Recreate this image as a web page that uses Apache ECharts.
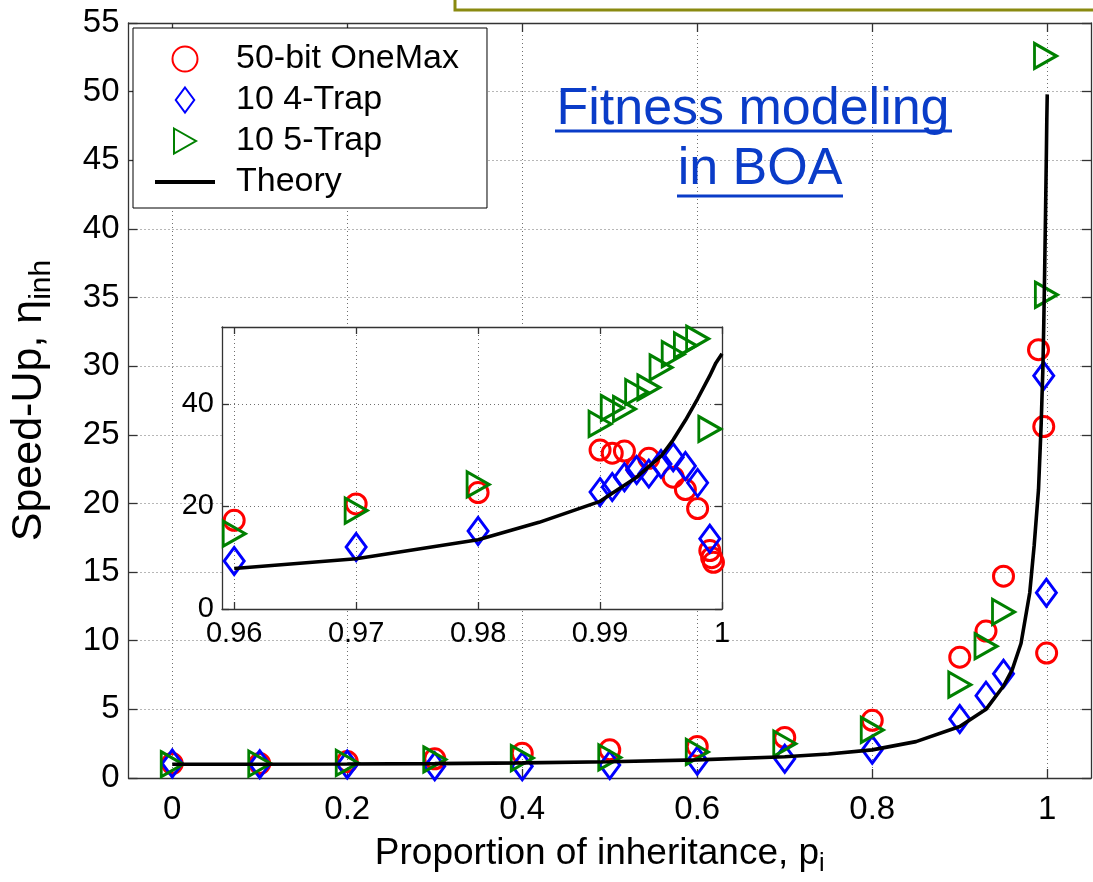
<!DOCTYPE html>
<html><head><meta charset="utf-8">
<script src="https://cdn.jsdelivr.net/npm/echarts@6/dist/echarts.min.js"></script>
<style>html,body{margin:0;padding:0;background:#fff}#c{width:1093px;height:882px}</style>
</head><body><div id="c"></div>
<script>
// ---------- tick labels ----------
const mainXTicks = [0, 0.2, 0.4, 0.6, 0.8, 1];
const insetXTicks = [0.96, 0.97, 0.98, 0.99, 1];
const insetYTicks = [0, 20, 40];

// ---------- main panel data ----------
const pOneMaxMain = [0, 0.1, 0.2, 0.3, 0.4, 0.5, 0.6, 0.7, 0.8, 0.9, 0.93, 0.95, 0.99, 0.996, 0.9993];
const oneMaxMain  = [1.05, 1.05, 1.2, 1.4, 1.8, 2.05, 2.3, 2.95, 4.2, 8.8, 10.7, 14.7, 31.2, 25.6, 9.1];
const pTrap4Main  = [0, 0.1, 0.2, 0.3, 0.4, 0.5, 0.6, 0.7, 0.8, 0.9, 0.93, 0.95, 0.996, 0.999];
const trap4Main   = [1.05, 1.0, 0.98, 0.85, 0.85, 0.95, 1.25, 1.4, 2.06, 4.3, 6.0, 7.6, 29.3, 13.5];
const pTrap5Main  = [0, 0.1, 0.2, 0.3, 0.4, 0.5, 0.6, 0.7, 0.8, 0.9, 0.93, 0.95, 0.998, 0.999];
const trap5Main   = [1.0, 1.05, 1.1, 1.35, 1.45, 1.5, 1.9, 2.5, 3.5, 6.8, 9.6, 12.1, 52.6, 35.2];

// ---------- inset data ----------
const pOneMaxInset = [0.96, 0.97, 0.98, 0.99, 0.991, 0.992, 0.993, 0.994, 0.996, 0.997, 0.998, 0.999, 0.99915, 0.9993];
const oneMaxInset  = [17.3, 20.5, 22.7, 31.0, 30.4, 30.8, 27.7, 29.4, 25.7, 23.3, 19.6, 11.4, 10.0, 9.1];
const pTrap4Inset  = [0.96, 0.97, 0.98, 0.99, 0.991, 0.992, 0.993, 0.994, 0.995, 0.996, 0.997, 0.998, 0.999];
const trap4Inset   = [9.35, 12.1, 15.2, 22.8, 23.8, 25.7, 27.1, 26.4, 28.3, 29.6, 27.9, 24.6, 13.7];
const pTrap5Inset  = [0.96, 0.97, 0.98, 0.99, 0.991, 0.992, 0.993, 0.994, 0.995, 0.996, 0.997, 0.998, 0.999];
const trap5Inset   = [14.7, 19.2, 24.3, 36.1, 39.2, 39.0, 42.3, 43.2, 47.1, 49.7, 51.4, 52.7, 35.1];

// ---------- theory curve ----------
const pTheory = [0, 0.1, 0.2, 0.3, 0.4, 0.5, 0.6, 0.7, 0.75, 0.8, 0.85, 0.9, 0.93, 0.95, 0.96, 0.97, 0.98, 0.985, 0.99, 0.993, 0.995, 0.996, 0.997, 0.998, 0.999, 0.9995, 1.0];
const theory  = [1.0, 1.0, 1.02, 1.05, 1.1, 1.18, 1.32, 1.55, 1.75, 2.05, 2.65, 3.75, 5.0, 6.7, 7.9, 9.8, 13.5, 16.9, 21.0, 25.7, 29.8, 33.0, 36.8, 41.0, 45.5, 48.0, 49.8];
const insetStart = 0.96;

const zip = (xs, ys) => xs.map((x, i) => [x, ys[i]]);
const F = "'Liberation Sans', Arial, sans-serif";
const RED = '#ff0000', BLUE = '#0000ff', GREEN = '#008000', TBLUE = '#0a3cc8';
const GRIDC = '#6f6f6f';
const AXC = '#333';
const DIAMOND = 'path://M10,0 L20,13.5 L10,27 L0,13.5 Z';
const TRIRIGHT = 'path://M0,0 L22,12.5 L0,25 Z';
const LINEICON = 'path://M0,0 L60,0 L60,4 L0,4 Z';

function mk(name, data, xi, yi, color, kind, z) {
  const s = {
    name, type: 'scatter', data, xAxisIndex: xi, yAxisIndex: yi, z, silent: true,
    itemStyle: { color: 'rgba(0,0,0,0)', borderColor: color, borderWidth: 3, opacity: 1 }
  };
  if (kind === 'o') { s.symbol = 'circle'; s.symbolSize = 20; }
  if (kind === 'd') { s.symbol = DIAMOND; s.symbolSize = [20, 27]; }
  if (kind === 't') { s.symbol = TRIRIGHT; s.symbolSize = [22, 25]; }
  return s;
}

const chart = echarts.init(document.getElementById('c'), null, { renderer: 'canvas' });
const splitDotted = { show: true, lineStyle: { color: GRIDC, width: 1, type: [1, 3] } };
const axLine = { show: true, onZero: false, lineStyle: { color: AXC, width: 1.3 } };

const theoryInset = zip(pTheory, theory).filter(d => d[0] >= insetStart);

chart.setOption({
  animation: false,
  backgroundColor: '#fff',
  grid: [
    { left: 124, top: 23, right: 2, bottom: 95, containLabel: false },
    { left: 222, top: 327, width: 500, height: 282, show: true, backgroundColor: '#fff', borderWidth: 0, z: 5 }
  ],
  legend: {
    data: [
      { name: '50-bit OneMax' },
      { name: '10 4-Trap' },
      { name: '10 5-Trap' },
      { name: 'Theory', icon: LINEICON }
    ],
    orient: 'vertical', left: 133, top: 28,
    backgroundColor: '#fff', borderColor: '#000', borderWidth: 1, borderRadius: 0,
    padding: [14, 28, 9, 22],
    itemWidth: 60, itemHeight: 25, itemGap: 7,
    textStyle: { fontFamily: F, fontSize: 34, color: '#000', padding: [0, 0, 0, 16] },
    selectedMode: false, z: 4
  },
  xAxis: [
    { type: 'value', gridIndex: 0, min: -0.05, max: 1.05, position: 'bottom',
      name: 'Proportion of inheritance, p{s|i}', nameLocation: 'middle', nameGap: 52,
      nameTextStyle: { fontFamily: F, fontSize: 37, color: '#000', padding: [0, 20, 0, 0], rich: { s: { fontFamily: F, fontSize: 25, color: '#000', padding: [22, 0, 0, 0] } } },
      axisLine: axLine,
      axisTick: { show: true, inside: true, length: 9, customValues: mainXTicks, lineStyle: { color: AXC, width: 1.3 } },
      axisLabel: { show: true, customValues: mainXTicks, fontFamily: F, fontSize: 33, color: '#000', margin: 15, formatter: v => String(+v.toFixed(1)) },
      splitLine: splitDotted },
    { type: 'value', gridIndex: 0, min: -0.05, max: 1.05, position: 'top',
      axisLine: axLine,
      axisTick: { show: true, inside: true, length: 9, customValues: mainXTicks, lineStyle: { color: AXC, width: 1.3 } },
      axisLabel: { show: false }, splitLine: { show: false } },
    { type: 'value', gridIndex: 1, min: 0.959, max: 1.0, position: 'bottom', z: 6,
      axisLine: axLine,
      axisTick: { show: true, inside: true, length: 7, customValues: insetXTicks, lineStyle: { color: AXC, width: 1.3 } },
      axisLabel: { show: true, customValues: insetXTicks, fontFamily: F, fontSize: 29, color: '#000', margin: 10, formatter: v => String(+v.toFixed(2)) },
      splitLine: splitDotted },
    { type: 'value', gridIndex: 1, min: 0.959, max: 1.0, position: 'top', z: 6,
      axisLine: axLine,
      axisTick: { show: true, inside: true, length: 7, customValues: insetXTicks, lineStyle: { color: AXC, width: 1.3 } },
      axisLabel: { show: false }, splitLine: { show: false } }
  ],
  yAxis: [
    { type: 'value', gridIndex: 0, min: 0, max: 55, interval: 5, position: 'left',
      name: 'Speed-Up, η{s|inh}', nameLocation: 'middle', nameGap: 72, nameRotate: 90,
      nameTextStyle: { fontFamily: F, fontSize: 43, color: '#000', rich: { s: { fontFamily: F, fontSize: 30, color: '#000', padding: [24, 0, 0, 0] } } },
      axisLine: axLine,
      axisTick: { show: true, inside: true, length: 9, lineStyle: { color: AXC, width: 1.3 } },
      axisLabel: { fontFamily: F, fontSize: 33, color: '#000', margin: 9 },
      splitLine: splitDotted },
    { type: 'value', gridIndex: 0, min: 0, max: 55, interval: 5, position: 'right',
      axisLine: axLine,
      axisTick: { show: true, inside: true, length: 9, lineStyle: { color: AXC, width: 1.3 } },
      axisLabel: { show: false }, splitLine: { show: false } },
    { type: 'value', gridIndex: 1, min: 0, max: 55, position: 'left', z: 6,
      axisLine: axLine,
      axisTick: { show: true, inside: true, length: 7, customValues: insetYTicks, lineStyle: { color: AXC, width: 1.3 } },
      axisLabel: { show: true, customValues: insetYTicks, fontFamily: F, fontSize: 29, color: '#000', margin: 8 },
      splitLine: splitDotted },
    { type: 'value', gridIndex: 1, min: 0, max: 55, position: 'right', z: 6,
      axisLine: axLine,
      axisTick: { show: true, inside: true, length: 7, customValues: insetYTicks, lineStyle: { color: AXC, width: 1.3 } },
      axisLabel: { show: false }, splitLine: { show: false } }
  ],
  series: [
    mk('50-bit OneMax', zip(pOneMaxMain, oneMaxMain), 0, 0, RED, 'o', 3),
    mk('10 4-Trap', zip(pTrap4Main, trap4Main), 0, 0, BLUE, 'd', 3),
    mk('10 5-Trap', zip(pTrap5Main, trap5Main), 0, 0, GREEN, 't', 3),
    { name: 'Theory', type: 'line', data: zip(pTheory, theory), xAxisIndex: 0, yAxisIndex: 0, z: 4,
      symbol: 'none', silent: true, lineStyle: { color: '#000', width: 3.6 }, itemStyle: { color: '#000' } },
    mk('50-bit OneMax', zip(pOneMaxInset, oneMaxInset), 2, 2, RED, 'o', 10),
    mk('10 4-Trap', zip(pTrap4Inset, trap4Inset), 2, 2, BLUE, 'd', 10),
    mk('10 5-Trap', zip(pTrap5Inset, trap5Inset), 2, 2, GREEN, 't', 10),
    { name: 'Theory', type: 'line', data: theoryInset, xAxisIndex: 2, yAxisIndex: 2, z: 11,
      symbol: 'none', silent: true, clip: true, lineStyle: { color: '#000', width: 3.6 }, itemStyle: { color: '#000' } }
  ],
  graphic: [
    { type: 'rect', shape: { x: 455, y: -20, width: 700, height: 30 }, style: { fill: 'rgba(0,0,0,0)', stroke: '#8a8a10', lineWidth: 3 }, z: 20 },
    { type: 'text', x: 753, y: 110, style: { text: 'Fitness modeling', fontFamily: F, fontSize: 52, fill: TBLUE, align: 'center', verticalAlign: 'middle' }, z: 20 },
    { type: 'line', shape: { x1: 555, y1: 131, x2: 952, y2: 131 }, style: { stroke: TBLUE, lineWidth: 3 }, z: 20 },
    { type: 'text', x: 760, y: 170, style: { text: 'in BOA', fontFamily: F, fontSize: 52, fill: TBLUE, align: 'center', verticalAlign: 'middle' }, z: 20 },
    { type: 'line', shape: { x1: 677, y1: 196, x2: 843, y2: 196 }, style: { stroke: TBLUE, lineWidth: 3 }, z: 20 }
  ]
});
</script></body></html>
